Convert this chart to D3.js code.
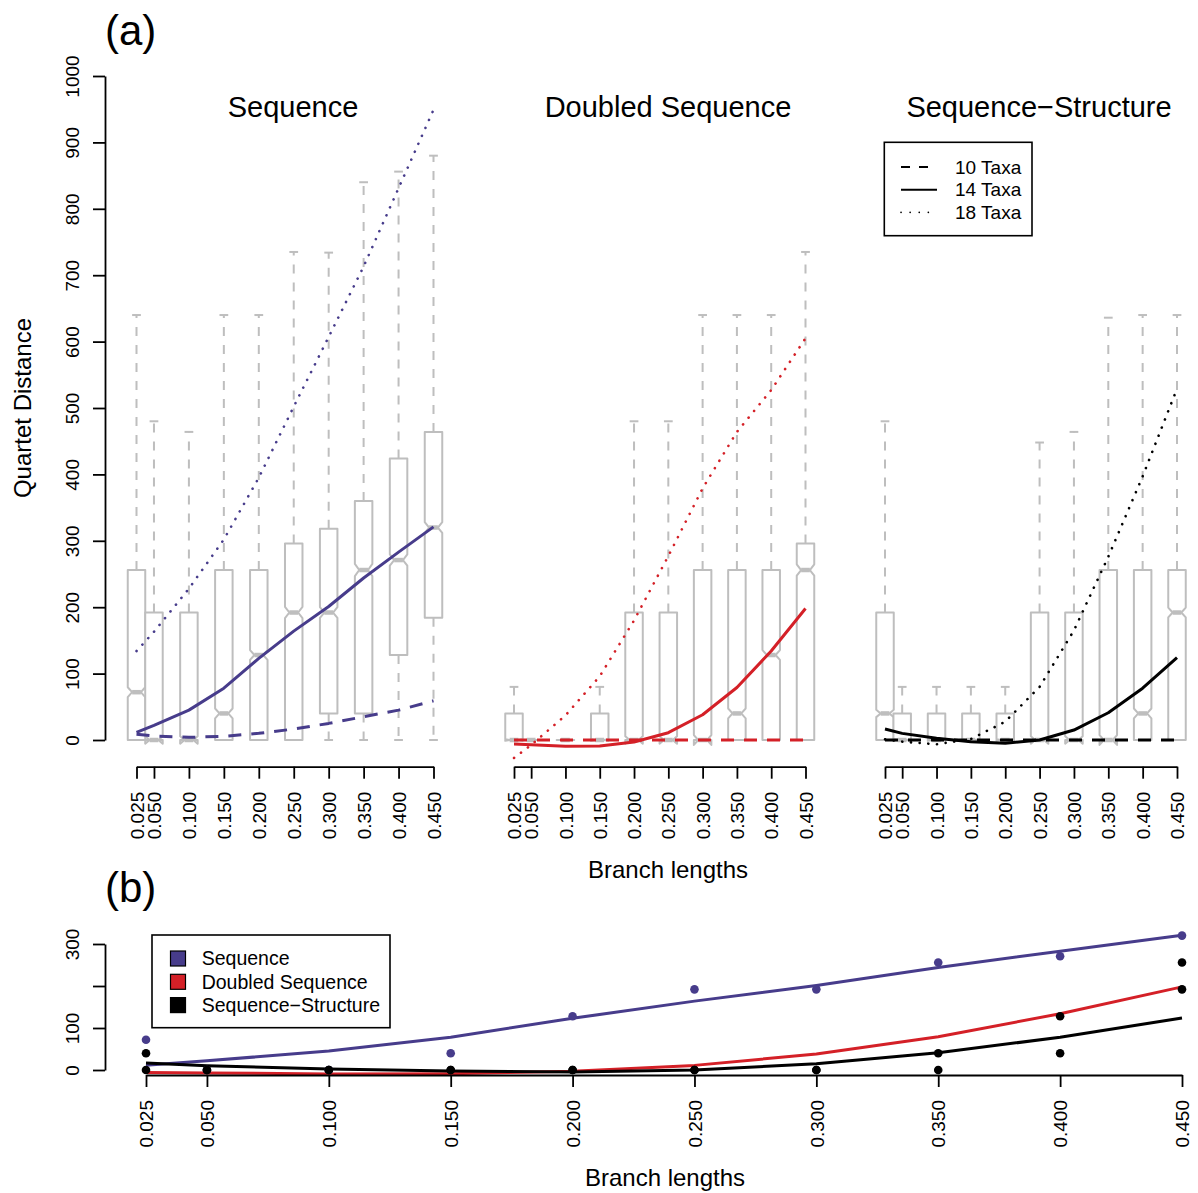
<!DOCTYPE html>
<html>
<head>
<meta charset="utf-8">
<script src="https://cdn.jsdelivr.net/npm/d3@7"></script>
<style>
  html, body { margin: 0; padding: 0; background: #ffffff; }
  text { font-family: "Liberation Sans", Arial, Helvetica, sans-serif; fill: #000; }
</style>
</head>
<body>
<script>
// ---------------- DATA ----------------
const branchLengths = [0.025, 0.05, 0.1, 0.15, 0.2, 0.25, 0.3, 0.35, 0.4, 0.45];
const tickLabels = ["0.025", "0.050", "0.100", "0.150", "0.200", "0.250", "0.300", "0.350", "0.400", "0.450"];
const panelTitles = ["Sequence", "Doubled Sequence", "Sequence\u2212Structure"];
const taxaLabels = ["10 Taxa", "14 Taxa", "18 Taxa"];
const methodLabels = ["Sequence", "Doubled Sequence", "Sequence\u2212Structure"];
const yTicksTop = [0, 100, 200, 300, 400, 500, 600, 700, 800, 900, 1000];
const yTicksBottom = [0, 100, 200, 300];
const yTickLabelsBottom = ["0", "100", "", "300"];
const samplesPerBox = 3000;

// Boxplot statistics (lower whisker, Q1, median, Q3, upper whisker)
const seqLo  = [0, 0, 0, 0, 0, 0, 0, 0, 0, 0];
const seqQ1  = [0, 0, 0, 0, 0, 0, 40, 40, 128, 184];
const seqMed = [72, 0, 0, 40, 128, 192, 192, 256, 271, 320];
const seqQ3  = [256, 192, 192, 256, 256, 296, 318, 360, 424, 464];
const seqHi  = [640, 480, 464, 640, 640, 735, 734, 840, 856, 880];

const dblLo  = [0, 0, 0, 0, 0, 0, 0, 0, 0, 0];
const dblQ1  = [0, 0, 0, 0, 0, 0, 0, 0, 0, 0];
const dblMed = [0, 0, 0, 0, 0, 0, 0, 40, 128, 256];
const dblQ3  = [40, 0, 0, 40, 192, 192, 256, 256, 256, 296];
const dblHi  = [80, 0, 0, 80, 480, 480, 640, 640, 640, 735];

const ssLo  = [0, 0, 0, 0, 0, 0, 0, 0, 0, 0];
const ssQ1  = [0, 0, 0, 0, 0, 0, 0, 0, 0, 0];
const ssMed = [40, 0, 0, 0, 0, 0, 0, 0, 40, 192];
const ssQ3  = [192, 40, 40, 40, 40, 192, 192, 256, 256, 256];
const ssHi  = [480, 80, 80, 80, 80, 448, 464, 636, 640, 640];

// Fitted curves per taxa count
const seq10 = [8.5, 6, 4, 5.5, 10, 16.5, 25, 35, 45, 59];
const seq14 = [11.5, 22, 45, 78, 123, 164, 201, 244, 283, 321];
const seq18 = [134, 163, 228, 302, 395, 502, 607, 713, 831, 949];

const dbl10 = [0, 0, 0, 0, 0, 0, 0, 0, 0, 0];
const dbl14 = [-6, -7, -9.5, -9, -3, 11, 38, 79, 134, 198];
const dbl18 = [-27, -7.5, 37, 96, 180, 277, 379, 464, 527, 605];

const ss10 = [0, 0, 0, 0, 0, 0, 0, 0, 0, 0];
const ss14 = [16.5, 10, 2.5, -2.5, -5, 0, 15, 41, 78, 124];
const ss18 = [1, -2.5, -6.5, 1.5, 27.6, 80, 165, 276, 397, 529];

// ---------------- STYLE / LAYOUT ----------------
const W = 1198, H = 1193;
const PURPLE = "#473C8B", RED = "#D42027", BLACK = "#000000", GREY = "#BEBEBE";
const svg = d3.select("body").append("svg").attr("width", W).attr("height", H);
svg.append("rect").attr("width", W).attr("height", H).attr("fill", "#fff");

const yTop = d3.scaleLinear().domain([0, 1000]).range([740, 76]);
const panelRanges = [[136.5, 433.5], [514, 805.5], [885, 1177]];
const panelTitleX = [293, 668, 1039];
const dashStyles = ["13,10", null, "0.1,8.6"];

const panels = [
  { lo: seqLo, q1: seqQ1, med: seqMed, q3: seqQ3, hi: seqHi, lines: [seq10, seq14, seq18], color: PURPLE },
  { lo: dblLo, q1: dblQ1, med: dblMed, q3: dblQ3, hi: dblHi, lines: [dbl10, dbl14, dbl18], color: RED },
  { lo: ssLo, q1: ssQ1, med: ssMed, q3: ssQ3, hi: ssHi, lines: [ss10, ss14, ss18], color: BLACK }
];

function styleAxis(g) {
  g.selectAll("path.domain").attr("stroke", "#000").attr("stroke-width", 1.8);
  g.selectAll(".tick line").attr("stroke", "#000").attr("stroke-width", 1.8);
  g.selectAll(".tick text").attr("fill", "#000").style("font-size", "19px")
    .style("font-family", "'Liberation Sans', Arial, Helvetica, sans-serif");
}

panels.forEach((p, i) => {
  const x = d3.scaleLinear().domain([0.025, 0.45]).range(panelRanges[i]);
  const g = svg.append("g");
  const hw = 8.75;
  branchLengths.forEach((b, j) => {
    const cx = x(b);
    const lo = p.lo[j], q1 = p.q1[j], med = p.med[j], q3 = p.q3[j], hi = p.hi[j];
    const conf = 1.58 * (q3 - q1) / Math.sqrt(samplesPerBox);
    // whiskers
    g.append("line").attr("x1", cx).attr("x2", cx).attr("y1", yTop(q3)).attr("y2", yTop(hi))
      .attr("stroke", GREY).attr("stroke-width", 2).attr("stroke-dasharray", "9,9");
    g.append("line").attr("x1", cx).attr("x2", cx).attr("y1", yTop(q1)).attr("y2", yTop(lo))
      .attr("stroke", GREY).attr("stroke-width", 2).attr("stroke-dasharray", "9,9");
    [hi, lo].forEach(v => {
      g.append("line").attr("x1", cx - hw / 2).attr("x2", cx + hw / 2)
        .attr("y1", yTop(v)).attr("y2", yTop(v))
        .attr("stroke", GREY).attr("stroke-width", 2);
    });
    // notched box
    const pts = [[cx - hw, q1], [cx + hw, q1], [cx + hw, med - conf], [cx + hw / 2, med], [cx + hw, med + conf],
                 [cx + hw, q3], [cx - hw, q3], [cx - hw, med + conf], [cx - hw / 2, med], [cx - hw, med - conf]];
    g.append("polygon").attr("points", pts.map(d => d[0] + "," + yTop(d[1])).join(" "))
      .attr("fill", "#fff").attr("stroke", GREY).attr("stroke-width", 2).attr("stroke-linejoin", "round");
    g.append("line").attr("x1", cx - hw / 2).attr("x2", cx + hw / 2)
      .attr("y1", yTop(med)).attr("y2", yTop(med))
      .attr("stroke", GREY).attr("stroke-width", 4.5);
  });
  // fitted lines
  p.lines.forEach((vals, k) => {
    const line = d3.line().x((d, idx) => x(branchLengths[idx])).y(d => yTop(d));
    const path = g.append("path").datum(vals).attr("d", line)
      .attr("fill", "none").attr("stroke", p.color)
      .attr("stroke-width", k === 2 ? 2.6 : 3)
      .attr("stroke-linejoin", "round");
    if (k === 2) path.attr("stroke-dasharray", dashStyles[2]).attr("stroke-linecap", "round");
    else if (k === 0) path.attr("stroke-dasharray", dashStyles[0]);
  });
  // x axis
  const ax = svg.append("g").attr("transform", "translate(0,766.7)")
    .call(d3.axisBottom(x).tickValues(branchLengths)
      .tickFormat(d => tickLabels[branchLengths.indexOf(d)]).tickSize(12).tickSizeOuter(0));
  styleAxis(ax);
  ax.selectAll(".tick text").attr("transform", "rotate(-90)").attr("x", -25).attr("y", 0)
    .attr("dy", "0.35em").attr("text-anchor", "end");
  // title
  svg.append("text").attr("x", panelTitleX[i]).attr("y", 117).attr("text-anchor", "middle")
    .style("font-size", "29px").text(panelTitles[i]);
});

// top y axis
const ayTop = svg.append("g").attr("transform", "translate(105,0)")
  .call(d3.axisLeft(yTop).tickValues(yTicksTop).tickFormat(d3.format("d")).tickSize(12).tickSizeOuter(0));
styleAxis(ayTop);
ayTop.selectAll(".tick text").attr("transform", "rotate(-90)").attr("x", 0).attr("y", -33)
  .attr("dy", "0.35em").attr("text-anchor", "middle");

svg.append("text").attr("transform", "translate(31,408) rotate(-90)").attr("text-anchor", "middle")
  .style("font-size", "24px").text("Quartet Distance");
svg.append("text").attr("x", 668).attr("y", 878).attr("text-anchor", "middle")
  .style("font-size", "24px").text("Branch lengths");
svg.append("text").attr("x", 105).attr("y", 45).style("font-size", "42px").text("(a)");
svg.append("text").attr("x", 105).attr("y", 902).style("font-size", "42px").text("(b)");

// top legend
const lg = svg.append("g");
lg.append("rect").attr("x", 884.3).attr("y", 142.3).attr("width", 147.7).attr("height", 93.4)
  .attr("fill", "#fff").attr("stroke", "#000").attr("stroke-width", 1.6);
taxaLabels.forEach((t, k) => {
  const yy = 167 + k * 22.7;
  const l = lg.append("line").attr("x1", 901).attr("x2", 937).attr("y1", yy).attr("y2", yy)
    .attr("stroke", "#000").attr("stroke-width", k === 2 ? 1.6 : 2);
  if (k === 0) l.attr("stroke-dasharray", "9,9");
  if (k === 2) l.attr("stroke-dasharray", "0.1,9").attr("stroke-linecap", "round");
  lg.append("text").attr("x", 955).attr("y", yy).attr("dy", "0.35em").style("font-size", "19px").text(t);
});

// ---------------- PANEL (b) ----------------
const xB = d3.scaleLinear().domain([0.025, 0.45]).range([146, 1182]);
const yB = d3.scaleLinear().domain([0, 300]).range([1070, 944]);
const gb = svg.append("g");
const bLines = [seq14, dbl14, ss14];
const bColors = [PURPLE, RED, BLACK];
bLines.forEach((vals, k) => {
  gb.append("path").datum(vals)
    .attr("d", d3.line().x((d, idx) => xB(branchLengths[idx])).y(d => yB(d)))
    .attr("fill", "none").attr("stroke", bColors[k]).attr("stroke-width", 3).attr("stroke-linejoin", "round");
});
const bPoints = [seqMed, dblMed, ssMed];
const bPointColors = [PURPLE, BLACK, BLACK];
bPoints.forEach((vals, k) => {
  gb.selectAll(null).data(vals).enter().append("circle")
    .attr("cx", (d, idx) => xB(branchLengths[idx])).attr("cy", d => yB(d))
    .attr("r", 4.3).attr("fill", bPointColors[k]);
});
const axB = svg.append("g").attr("transform", "translate(0,1075)")
  .call(d3.axisBottom(xB).tickValues(branchLengths)
    .tickFormat(d => tickLabels[branchLengths.indexOf(d)]).tickSize(12).tickSizeOuter(0));
styleAxis(axB);
axB.selectAll(".tick text").attr("transform", "rotate(-90)").attr("x", -25).attr("y", 0)
  .attr("dy", "0.35em").attr("text-anchor", "end");
const ayB = svg.append("g").attr("transform", "translate(105,0)")
  .call(d3.axisLeft(yB).tickValues(yTicksBottom)
    .tickFormat(d => yTickLabelsBottom[yTicksBottom.indexOf(d)]).tickSize(12).tickSizeOuter(0));
styleAxis(ayB);
ayB.selectAll(".tick text").attr("transform", "rotate(-90)").attr("x", 0).attr("y", -33)
  .attr("dy", "0.35em").attr("text-anchor", "middle");
svg.append("text").attr("x", 665).attr("y", 1186).attr("text-anchor", "middle")
  .style("font-size", "24px").text("Branch lengths");

// bottom legend
const lb = svg.append("g");
lb.append("rect").attr("x", 152).attr("y", 935).attr("width", 238).attr("height", 92.7)
  .attr("fill", "#fff").attr("stroke", "#000").attr("stroke-width", 1.6);
methodLabels.forEach((t, k) => {
  const yy = 958.5 + k * 23.3;
  lb.append("rect").attr("x", 170.5).attr("y", yy - 7.5).attr("width", 15).attr("height", 15)
    .attr("fill", bColors[k]).attr("stroke", "#000").attr("stroke-width", 1.2);
  lb.append("text").attr("x", 201.7).attr("y", yy).attr("dy", "0.35em").style("font-size", "19.5px").text(t);
});
</script>
</body>
</html>
